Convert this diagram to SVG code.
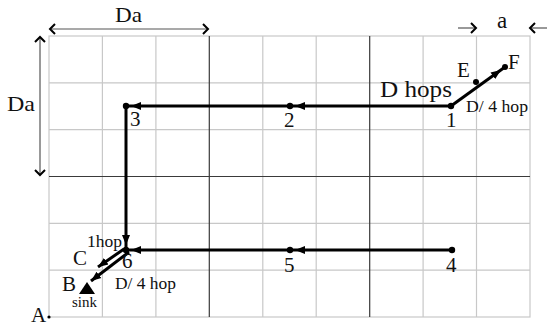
<svg xmlns="http://www.w3.org/2000/svg" width="547" height="327" viewBox="0 0 547 327">
<style>
.g{stroke:#c8c8c8;stroke-width:1.2;fill:none}
.d{stroke:#3a3a3a;stroke-width:1.2;fill:none}
.dim{stroke:#555;stroke-width:1.2;fill:none}
.p{stroke:#000;stroke-width:3;fill:none}
.t{font-family:"Liberation Serif","Times New Roman",serif;fill:#111}
</style>
<defs>
<marker id="ah" markerUnits="userSpaceOnUse" markerWidth="20" markerHeight="10" refX="15" refY="4" orient="auto" viewBox="0 0 20 8">
<path d="M0,0 L10,4 L0,8 z" fill="#000"/>
</marker>
<marker id="ae" markerUnits="userSpaceOnUse" markerWidth="12" markerHeight="10" refX="10" refY="4" orient="auto" viewBox="0 0 12 8">
<path d="M0,0 L10,4 L0,8 z" fill="#000"/>
</marker>
<marker id="chev" markerUnits="userSpaceOnUse" markerWidth="10" markerHeight="14" refX="6" refY="6" orient="auto" viewBox="0 0 10 12">
<path d="M1,1 L6,6 L1,11" stroke="#000" stroke-width="2" fill="none"/>
</marker>
<marker id="chevs" markerUnits="userSpaceOnUse" markerWidth="10" markerHeight="14" refX="6" refY="6" orient="auto-start-reverse" viewBox="0 0 10 12">
<path d="M1,1 L6,6 L1,11" stroke="#000" stroke-width="2" fill="none"/>
</marker>
</defs>
<rect width="547" height="327" fill="#fff"/>
<g id="grid">
<rect class="g" x="49" y="36" width="481" height="281"/>
<path class="g" d="M102.4,36V317M155.9,36V317M262.8,36V317M316.2,36V317M423.1,36V317M476.5,36V317M49,82.8H530M49,129.7H530M49,223.3H530M49,270.2H530"/>
<path class="d" d="M209.3,36V317M369.7,36V317M49,176.5H530"/>
</g>
<g id="dimensions">
<path class="dim" d="M50,29H208" marker-start="url(#chevs)" marker-end="url(#chev)"/>
<path class="dim" d="M40,37V175" marker-start="url(#chevs)" marker-end="url(#chev)"/>
<path class="dim" d="M458,28H476" marker-end="url(#chev)"/>
<path class="dim" d="M547,28H530" marker-end="url(#chev)"/>
<text class="t" x="115" y="22" font-size="22" textLength="27" lengthAdjust="spacingAndGlyphs">Da</text>
<text class="t" x="7" y="111" font-size="22" textLength="28" lengthAdjust="spacingAndGlyphs">Da</text>
<text class="t" x="497" y="28" font-size="23">a</text>
</g>
<g id="connectors">
<path class="p" d="M451,106H290" marker-end="url(#ah)"/>
<path class="p" d="M290,106H126" marker-end="url(#ah)"/>
<path class="p" d="M126,106V250" marker-end="url(#ah)"/>
<path class="p" d="M452,250H290" marker-end="url(#ah)"/>
<path class="p" d="M290,250H126" marker-end="url(#ah)"/>
<path class="p" d="M451,106L505,67" marker-end="url(#ah)"/>
<path class="p" stroke-width="2.5" d="M124,249L98,267" marker-end="url(#ae)"/>
<path class="p" stroke-width="2.5" d="M129,252L91,281" marker-end="url(#ae)"/>
</g>
<g id="node-1"><circle cx="451" cy="106" r="3.2"/><text class="t" x="446" y="127" font-size="21">1</text></g>
<g id="node-2"><circle cx="290" cy="106" r="3.2"/><text class="t" x="284" y="127" font-size="21">2</text></g>
<g id="node-3"><circle cx="126" cy="106" r="3.2"/><text class="t" x="130" y="126" font-size="21">3</text></g>
<g id="node-4"><circle cx="452" cy="250" r="3.2"/><text class="t" x="446" y="272" font-size="21">4</text></g>
<g id="node-5"><circle cx="290" cy="250" r="3.2"/><text class="t" x="284" y="272" font-size="21">5</text></g>
<g id="node-6"><circle cx="126" cy="250" r="3.2"/><text class="t" x="122" y="268" font-size="21">6</text></g>
<g id="node-E"><circle cx="476" cy="82" r="3"/><text class="t" x="457" y="77" font-size="21">E</text></g>
<g id="node-F"><circle cx="505" cy="67" r="3"/><text class="t" x="508" y="69" font-size="21">F</text></g>
<g id="node-C"><text class="t" x="73" y="265" font-size="21">C</text></g>
<g id="node-B"><path d="M87,282L95,294H79z" fill="#000"/><text class="t" x="62" y="291" font-size="21">B</text><text class="t" x="72" y="307" font-size="15" textLength="25" lengthAdjust="spacingAndGlyphs">sink</text></g>
<g id="node-A"><circle cx="49" cy="317" r="1.6"/><text class="t" x="31" y="322" font-size="21">A</text></g>
<g id="labels">
<text class="t" x="380" y="97" font-size="23" textLength="72" lengthAdjust="spacingAndGlyphs">D hops</text>
<text class="t" x="466" y="112" font-size="17" textLength="62" lengthAdjust="spacingAndGlyphs">D/ 4 hop</text>
<text class="t" x="87" y="247" font-size="16" textLength="35" lengthAdjust="spacingAndGlyphs">1hop</text>
<text class="t" x="115" y="289" font-size="17" textLength="61" lengthAdjust="spacingAndGlyphs">D/ 4 hop</text>
</g>
</svg>
